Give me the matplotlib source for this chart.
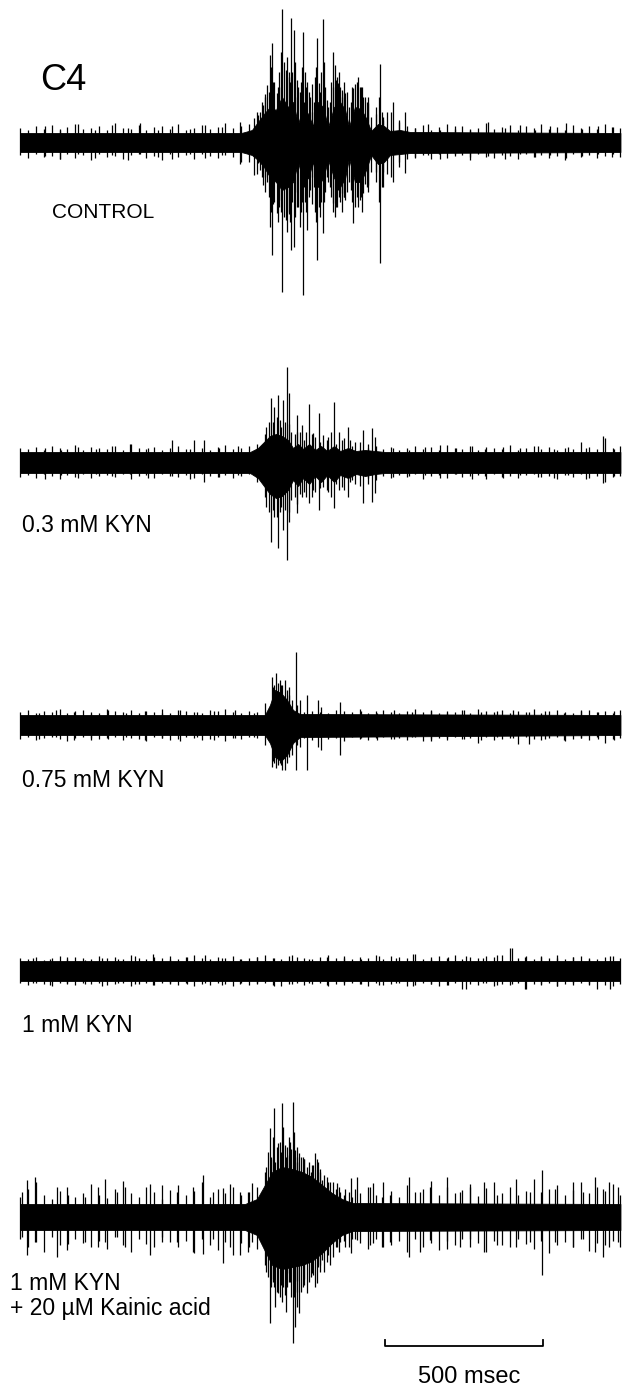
import numpy as np
import matplotlib
matplotlib.use("Agg")
import matplotlib.pyplot as plt

plt.rcParams['font.family'] = ['Liberation Sans', 'DejaVu Sans']

# sweep time axis: 158 px of page per 500 msec
MS_PER_PX = 500 / 158

# peak-to-peak noise read every 25 ms along each sweep (0 .. 1900 ms)
noise_t = np.arange(0, 1901, 25)

# ---- CONTROL ----
ctrl_env_t = [0, 700, 712, 734, 753, 772, 791, 810, 829, 848, 864, 880, 896, 912, 927, 943, 959, 975,
              994, 1013, 1029, 1041, 1060, 1079, 1095, 1111, 1133, 1152, 1171, 1203, 1234, 1900]
ctrl_env_hi = [9, 9, 10, 12, 20, 28, 35, 32, 45, 35, 40, 18, 35, 28, 16, 40, 35, 15,
               35, 40, 32, 15, 35, 33, 24, 11, 18, 16, 11, 12, 10, 9]
ctrl_env_lo = [-10, -10, -11, -13, -18, -25, -35, -40, -48, -45, -40, -20, -40, -36, -20, -45, -36, -18,
               -36, -45, -36, -16, -40, -40, -28, -13, -22, -20, -13, -12, -11, -10]
ctrl_noise_hi = [14, 12, 16, 13, 17, 12, 15, 18, 13, 14, 16, 12, 19, 14, 13, 17, 12, 15, 16, 13,
                 18, 12, 14, 17, 13, 15, 19, 14, 16,
                 18, 30, 48, 60, 55, 70, 62, 40, 58, 45, 35, 62, 50, 30, 55, 45, 28, 25, 30, 20, 16,
                 14, 17, 12, 15, 18, 13, 16, 12, 14, 19, 13, 15, 17, 12, 16, 14, 18, 13, 15, 12,
                 17, 14, 16, 13, 18, 15, 14]
ctrl_noise_lo = [-13, -16, -12, -15, -14, -17, -12, -16, -13, -18, -12, -15, -14, -17, -13, -12, -16,
                 -14, -18, -12, -15, -13, -17, -12, -14, -16, -13, -15, -20,
                 -20, -32, -50, -62, -58, -72, -65, -45, -62, -50, -40, -65, -55, -35, -58, -50, -30,
                 -30, -35, -20, -17,
                 -15, -13, -17, -12, -16, -14, -13, -18, -12, -15, -16, -13, -14, -17, -12, -15, -13,
                 -16, -14, -18, -12, -15, -13, -16, -14, -12, -15]
ctrl_spk_t = [741, 753, 769, 782, 791, 798, 813, 829, 842, 858, 867, 880, 896, 908, 918, 940, 946, 959,
              972, 991, 997, 1006, 1019, 1029, 1054, 1070, 1086, 1101, 1139, 1149, 1181, 1219,
              760, 776, 787, 805, 820, 835, 850, 862, 875, 888, 902, 913, 930, 935, 952, 965, 980,
              985, 1002, 1012, 1024, 1035, 1046, 1060, 1078, 1092, 1110, 1128, 1160, 1200,
              765, 795, 817, 825, 845, 855, 871, 885, 893, 905, 925, 938, 950, 962, 990, 1008,
              1020, 1040, 1050, 1065, 1083, 1097, 1135, 1145,
              79, 127, 184, 237, 291, 342, 380, 437, 481, 538, 586, 639, 696, 1250, 1291, 1329,
              1377, 1424, 1481, 1535, 1583, 1630, 1677, 1728, 1779, 1829, 1874]
ctrl_spk_hi = [24, 27, 37, 57, 87, 99, 49, 133, 72, 124, 112, 55, 110, 60, 45, 104, 59, 123,
               42, 90, 77, 59, 52, 49, 54, 65, 45, 39, 78, 22, 40, 30,
               30, 45, 50, 60, 70, 80, 65, 70, 45, 60, 70, 50, 40, 65, 70, 55, 40,
               60, 65, 55, 60, 50, 40, 58, 55, 45, 25, 35, 30, 22,
               40, 75, 55, 90, 85, 60, 80, 50, 75, 55, 30, 75, 50, 80, 55, 70,
               45, 35, 55, 60, 55, 40, 45, 30,
               16, 13, 18, 12, 17, 14, 19, 12, 16, 13, 17, 15, 20, 14, 18, 12,
               16, 13, 20, 14, 17, 12, 16, 19, 13, 16, 15]
ctrl_spk_lo = [-33, -21, -43, -40, -85, -113, -71, -150, -78, -108, -105, -65, -153, -88, -48, -118, -65, -91,
               -35, -61, -75, -48, -51, -58, -81, -65, -51, -43, -121, -45, -40, -31,
               -28, -35, -55, -60, -65, -75, -70, -60, -50, -70, -60, -55, -45, -70, -60, -50, -45,
               -55, -65, -60, -55, -50, -48, -65, -55, -42, -30, -40, -32, -25,
               -35, -70, -80, -70, -90, -80, -75, -85, -60, -70, -35, -80, -75, -60, -70, -55,
               -70, -40, -60, -55, -70, -45, -60, -45,
               -14, -17, -12, -16, -13, -18, -12, -15, -17, -12, -16, -13, -22, -16, -13, -17,
               -12, -15, -14, -17, -12, -15, -13, -16, -14, -12, -15]

# ---- 0.3 mM KYN ----
kyn03_env_t = [0, 715, 728, 753, 772, 791, 810, 829, 848, 864, 880, 896, 915, 934, 953, 972,
               994, 1013, 1038, 1063, 1092, 1124, 1155, 1900]
kyn03_env_hi = [10, 10, 10, 14, 20, 26, 28, 26, 22, 14, 18, 13, 18, 12, 16, 11,
                16, 11, 14, 11, 12, 11, 10, 10]
kyn03_env_lo = [-11, -11, -11, -16, -24, -32, -36, -34, -28, -18, -24, -16, -22, -14, -20, -13,
                -20, -13, -16, -12, -14, -12, -11, -11]
kyn03_noise_hi = [14, 13, 15, 12, 16, 14, 13, 17, 12, 15, 14, 13, 16, 12, 18, 14, 13, 15, 12, 14,
                  16, 13, 22, 14, 12, 15, 17, 13, 14, 16,
                  18, 28, 40, 35, 38, 30, 22, 28, 20, 25, 18, 24, 16, 20, 14, 16, 13,
                  15, 12, 14, 16, 13, 15, 12, 17, 14, 13, 16, 12, 15, 14, 13, 17, 12, 14, 16, 13,
                  15, 12, 14, 13, 20, 15, 13, 24, 14, 16]
kyn03_noise_lo = [-15, -13, -16, -12, -14, -17, -13, -15, -12, -16, -14, -13, -15, -12, -17, -14, -13,
                  -16, -12, -14, -15, -13, -16, -12, -14, -15, -13, -16, -14, -12,
                  -20, -35, -48, -45, -50, -42, -30, -35, -26, -30, -22, -28, -18, -24, -16, -18, -14,
                  -16, -13, -15, -12, -17, -14, -13, -16, -12, -15, -14, -13, -17, -12, -15, -14, -16,
                  -13, -12, -15, -14, -17, -13, -15, -12, -16, -14, -20, -15, -14]
kyn03_spk_t = [794, 804, 817, 832, 845, 851, 877, 893, 915, 927, 946, 959, 994, 1010, 1038, 1044,
               1086, 1114, 1124,
               780, 788, 812, 824, 838, 858, 870, 885, 905, 935, 970, 985, 1020, 1060, 1100,
               79, 130, 184, 241, 291, 348, 405, 481, 538, 582, 630, 690, 1180, 1230, 1282, 1329,
               1380, 1430, 1472, 1530, 1583, 1640, 1690, 1735, 1790, 1845, 1880]
kyn03_spk_hi = [64, 55, 67, 62, 95, 69, 47, 37, 58, 29, 49, 27, 60, 30, 35, 22,
                32, 34, 25,
                35, 40, 45, 42, 40, 30, 28, 30, 30, 25, 22, 30, 22, 20, 18,
                14, 12, 15, 13, 16, 18, 14, 22, 13, 22, 14, 16, 14, 12, 15, 17,
                14, 16, 13, 15, 14, 16, 13, 15, 14, 26, 13]
kyn03_spk_lo = [-80, -55, -86, -68, -98, -60, -51, -35, -41, -28, -48, -25, -46, -28, -35, -20,
                -41, -40, -31,
                -45, -50, -55, -50, -48, -38, -35, -32, -35, -30, -28, -35, -25, -22, -22,
                -17, -13, -16, -12, -14, -12, -16, -14, -17, -20, -15, -13, -15, -14, -13, -16,
                -12, -17, -14, -16, -13, -15, -16, -13, -17, -21, -14]

# ---- 0.75 mM KYN ----
kyn075_env_t = [0, 775, 791, 807, 826, 845, 864, 886, 1900]
kyn075_env_hi = [10, 10, 20, 35, 32, 25, 15, 11, 10]
kyn075_env_lo = [-10, -10, -18, -32, -36, -30, -18, -12, -10]
kyn075_noise_hi = [13, 15, 12, 14, 13, 16, 12, 14, 15, 13, 12, 16, 14, 13, 15, 12, 14, 13, 16, 12,
                   15, 14, 13, 12, 15, 14, 16, 13, 12, 14, 13,
                   22, 38, 40, 30, 20, 13,
                   14, 13, 12, 15, 14, 13, 16, 12, 14, 15, 13, 12, 14, 16, 13, 15, 12, 14, 13, 15,
                   12, 16, 14, 13, 15, 12, 14, 13, 16, 12, 14, 15, 13, 12, 14, 15, 13, 14, 12, 15]
kyn075_noise_lo = [-14, -12, -15, -13, -12, -14, -16, -13, -12, -15, -14, -13, -12, -15, -13, -14,
                   -16, -12, -13, -15, -14, -12, -13, -15, -14, -12, -16, -13, -14, -12, -13,
                   -20, -36, -40, -32, -20, -13,
                   -15, -12, -14, -13, -16, -12, -14, -15, -13, -12, -14, -13, -15, -12, -16, -14,
                   -13, -15, -12, -14, -13, -18, -12, -15, -14, -13, -19, -12, -14, -15, -13, -12,
                   -16, -14, -13, -15, -12, -18, -14, -13]
kyn075_spk_t = [797, 810, 823, 839, 851, 874, 886, 908, 943, 953, 1013, 803, 816, 830, 845, 860,
                60, 115, 170, 225, 280, 335, 395, 450, 505, 560, 615, 680, 740, 1080, 1130,
                1185, 1240, 1300, 1350, 1405, 1460, 1510, 1560, 1610, 1660, 1720, 1775, 1830, 1880]
kyn075_spk_hi = [48, 52, 45, 45, 38, 73, 25, 30, 25, 18, 23, 40, 42, 40, 35, 25,
                 12, 15, 13, 11, 15, 12, 14, 12, 15, 13, 14, 15, 12, 14, 12,
                 15, 13, 14, 12, 15, 13, 14, 15, 13, 14, 12, 15, 13, 14]
kyn075_spk_lo = [-42, -43, -38, -45, -25, -45, -22, -45, -22, -25, -30, -38, -40, -45, -38, -30,
                 -14, -12, -15, -13, -14, -12, -15, -13, -16, -12, -15, -13, -12, -13, -15,
                 -14, -12, -16, -13, -14, -15, -12, -13, -19, -14, -15, -13, -14, -15]

# ---- 1 mM KYN ----
kyn1_env_t = [0, 1900]
kyn1_env_hi = [10, 10]
kyn1_env_lo = [-10, -10]
kyn1_noise_hi = [13, 12, 14, 11, 13, 15, 12, 14, 13, 12, 15, 13, 14, 12, 16, 13, 12, 14, 13, 15,
                 12, 14, 16, 13, 12, 14, 13, 15, 12, 13, 14, 16, 13, 12, 15, 14, 13, 12, 14, 16,
                 13, 15, 12, 14, 13, 16, 12, 15, 14, 13, 17, 12, 14, 15, 13, 16, 12, 14, 13, 15,
                 14, 16, 23, 13, 15, 12, 14, 13, 16, 12, 14, 15, 13, 12, 14, 15, 13]
kyn1_noise_lo = [-12, -14, -12, -13, -15, -12, -13, -14, -12, -13, -12, -14, -13, -12, -15, -13,
                 -12, -14, -12, -13, -14, -12, -15, -13, -14, -12, -13, -15, -12, -14, -13, -12,
                 -14, -15, -13, -12, -14, -13, -12, -15, -13, -14, -12, -13, -15, -12, -14, -13,
                 -12, -15, -14, -12, -13, -15, -14, -12, -18, -13, -14, -12, -15, -13, -14, -12,
                 -18, -13, -14, -12, -15, -13, -14, -12, -13, -18, -14, -15, -13]
kyn1_spk_t = [40, 95, 150, 205, 260, 310, 365, 420, 475, 530, 585, 640, 695, 750, 805, 860, 915,
              970, 1025, 1080, 1135, 1190, 1245, 1300, 1355, 1410, 1465, 1510, 1557, 1598, 1650,
              1700, 1750, 1800, 1867]
kyn1_spk_hi = [13, 12, 14, 11, 13, 12, 15, 17, 12, 14, 16, 13, 12, 14, 13, 16, 12,
               14, 13, 12, 15, 13, 17, 12, 14, 15, 13, 16, 23, 14, 15,
               13, 14, 12, 15]
kyn1_spk_lo = [-12, -14, -12, -13, -15, -12, -13, -14, -12, -13, -12, -14, -13, -12, -15, -13, -12,
               -14, -12, -13, -14, -12, -15, -13, -14, -18, -12, -14, -13, -18, -13,
               -15, -12, -14, -18]

# ---- 1 mM KYN + 20 uM kainic acid ----
kain_env_t = [0, 712, 750, 775, 798, 829, 861, 893, 924, 956, 987, 1019, 1051, 1900]
kain_env_hi = [13, 13, 18, 32, 45, 50, 48, 45, 40, 32, 24, 18, 14, 13]
kain_env_lo = [-13, -13, -18, -34, -48, -52, -50, -48, -44, -36, -26, -18, -14, -13]
kain_noise_hi = [20, 28, 35, 22, 18, 26, 30, 20, 24, 33, 22, 19, 28, 36, 24, 20, 30, 25, 18, 27,
                 32, 22, 26, 35, 20, 28, 24, 30, 22, 25,
                 30, 45, 58, 65, 62, 60, 58, 52, 45, 35, 28, 22, 20,
                 24, 30, 22, 35, 26, 20, 32, 25, 28, 36, 22, 30, 24, 27, 33, 21, 29, 35, 24, 30,
                 22, 26, 38, 25, 28, 32, 22, 27, 35, 24, 30, 26, 33, 22]
kain_noise_lo = [-22, -30, -25, -35, -20, -28, -33, -22, -26, -30, -24, -32, -20, -28, -35, -22,
                 -27, -30, -20, -25, -30, -24, -36, -22, -28, -33, -25, -38, -26, -30,
                 -32, -48, -62, -68, -65, -64, -62, -56, -48, -38, -30, -24, -22,
                 -26, -32, -22, -30, -28, -24, -35, -22, -30, -26, -33, -24, -28, -22, -30, -26,
                 -35, -24, -28, -30, -22, -27, -32, -24, -36, -28, -25, -30, -22, -34, -26, -28,
                 -24, -30]
kain_spk_t = [791, 804, 817, 829, 845, 851, 864, 870, 883, 908, 934, 940, 956, 1003, 1048, 1067, 1117,
              1146, 1231, 1266, 1298, 1351,
              780, 795, 812, 823, 838, 858, 877, 895, 915, 928, 948, 970, 990, 1030,
              785, 800, 808, 833, 842, 855, 867, 875, 888, 900, 920, 943, 962, 980, 1010, 1040,
              6, 22, 47, 117, 152, 206, 247, 269, 307, 332, 411, 449, 497, 548, 579, 611, 643, 665,
              696, 722, 734, 1013, 1060, 1108, 1171, 1393, 1424, 1469, 1510, 1570, 1614, 1652, 1693,
              1750, 1782, 1820, 1845, 1864, 1893]
kain_spk_hi = [89, 109, 74, 114, 70, 80, 115, 67, 64, 50, 64, 58, 37, 34, 39, 40, 34,
               20, 40, 25, 30, 40,
               50, 60, 70, 75, 72, 68, 70, 60, 55, 52, 48, 40, 35, 28,
               65, 80, 55, 90, 60, 75, 85, 55, 60, 58, 45, 55, 42, 35, 30, 25,
               25, 37, 40, 30, 22, 20, 30, 38, 25, 30, 33, 32, 25, 30, 42, 25, 29, 33,
               25, 25, 34, 25, 28, 30, 22, 25, 30, 35, 22, 38, 25, 47, 28,
               35, 25, 40, 28, 35, 30]
kain_spk_lo = [-106, -70, -76, -85, -70, -56, -126, -110, -96, -76, -70, -66, -43, -30, -36, -23, -26,
               -30, -40, -35, -23, -32,
               -55, -70, -75, -80, -78, -80, -75, -70, -65, -58, -55, -45, -40, -30,
               -60, -65, -90, -70, -95, -65, -80, -90, -75, -68, -60, -50, -55, -48, -35, -30,
               -20, -38, -25, -40, -27, -25, -30, -25, -20, -30, -38, -25, -25, -35, -37, -22, -46, -30,
               -38, -35, -25, -25, -22, -28, -25, -30, -22, -35, -28, -30, -25, -58, -25,
               -30, -22, -35, -40, -30, -25]

traces = [
    (ctrl_env_t, ctrl_env_hi, ctrl_env_lo, ctrl_noise_hi, ctrl_noise_lo,
     ctrl_spk_t, ctrl_spk_hi, ctrl_spk_lo),
    (kyn03_env_t, kyn03_env_hi, kyn03_env_lo, kyn03_noise_hi, kyn03_noise_lo,
     kyn03_spk_t, kyn03_spk_hi, kyn03_spk_lo),
    (kyn075_env_t, kyn075_env_hi, kyn075_env_lo, kyn075_noise_hi, kyn075_noise_lo,
     kyn075_spk_t, kyn075_spk_hi, kyn075_spk_lo),
    (kyn1_env_t, kyn1_env_hi, kyn1_env_lo, kyn1_noise_hi, kyn1_noise_lo,
     kyn1_spk_t, kyn1_spk_hi, kyn1_spk_lo),
    (kain_env_t, kain_env_hi, kain_env_lo, kain_noise_hi, kain_noise_lo,
     kain_spk_t, kain_spk_hi, kain_spk_lo),
]
baselines = [-142, -462, -725, -971, -1217]

fig = plt.figure(figsize=(6.23, 13.86), dpi=100)
ax = fig.add_axes([0, 0, 1, 1])
ax.set_xlim(-20 * MS_PER_PX, 603 * MS_PER_PX)
ax.set_ylim(-1386, 0)
ax.axis('off')

for (et, ehi, elo, nhi, nlo, st, shi, slo), base in zip(traces, baselines):
    ax.fill_between(et, base + np.array(elo), base + np.array(ehi),
                    color='black', linewidth=0.6)
    ax.vlines(noise_t, base + np.array(nlo), base + np.array(nhi),
              colors='black', linewidth=0.9)
    ax.vlines(st, base + np.array(slo), base + np.array(shi),
              colors='black', linewidth=0.9)


def at(px, py):
    return (px - 20) * MS_PER_PX, -py


ax.text(*at(40, 90), 'C4', fontsize=26, ha='left', va='baseline')
ax.text(*at(52, 218), 'CONTROL', fontsize=15, ha='left', va='baseline')
ax.text(*at(22, 532), '0.3 mM KYN', fontsize=16.5, ha='left', va='baseline')
ax.text(*at(22, 787), '0.75 mM KYN', fontsize=16.5, ha='left', va='baseline')
ax.text(*at(22, 1032), '1 mM KYN', fontsize=16.5, ha='left', va='baseline')
ax.text(*at(10, 1290), '1 mM KYN', fontsize=16.5, ha='left', va='baseline')
ax.text(*at(10, 1315), '+ 20 \u00b5M Kainic acid', fontsize=16.5, ha='left', va='baseline')

# 500 msec scale bar
bar_start = 1155
bar_len = 500
bar_y = -1346
ax.plot([bar_start, bar_start, bar_start + bar_len, bar_start + bar_len],
        [bar_y + 6, bar_y, bar_y, bar_y + 6], color='black', linewidth=1.3)
ax.text(bar_start + bar_len / 2 + 18, -1383, '500 msec', fontsize=17, ha='center', va='baseline')

fig.savefig('out.png', dpi=100)
